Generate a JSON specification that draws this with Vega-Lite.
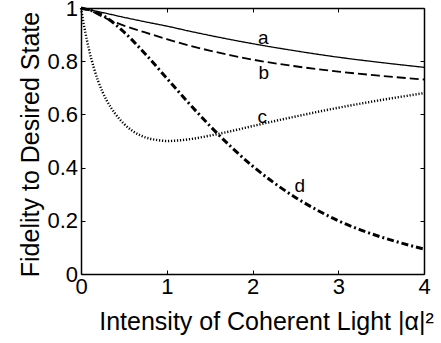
{
  "$schema": "https://vega.github.io/schema/vega-lite/v6.json",
  "width": 343,
  "height": 266,
  "autosize": {"type": "none"},
  "padding": {"left": 81, "top": 8, "right": 17, "bottom": 69},
  "config": {
    "view": {"stroke": null},
    "font": "Liberation Sans",
    "axis": {
      "grid": false,
      "domainColor": "black",
      "domainWidth": 1.5,
      "tickColor": "black",
      "tickWidth": 1,
      "tickSize": -4,
      "labelColor": "black",
      "labelFont": "Liberation Sans",
      "labelFontSize": 22,
      "labelFlush": false,
      "labelOverlap": false,
      "format": "~g",
      "titleColor": "black",
      "titleFont": "Liberation Sans",
      "titleFontSize": 25,
      "titleFontWeight": "normal"
    }
  },
  "datasets": {
    "curves": [
      {"s": "a", "x": 0, "y": 1}, {"s": "a", "x": 0.25, "y": 0.983}, {"s": "a", "x": 0.5, "y": 0.965}, {"s": "a", "x": 0.75, "y": 0.948}, {"s": "a", "x": 1, "y": 0.932}, {"s": "a", "x": 1.25, "y": 0.914}, {"s": "a", "x": 1.5, "y": 0.897}, {"s": "a", "x": 1.75, "y": 0.881}, {"s": "a", "x": 2, "y": 0.866}, {"s": "a", "x": 2.5, "y": 0.839}, {"s": "a", "x": 3, "y": 0.815}, {"s": "a", "x": 3.5, "y": 0.795}, {"s": "a", "x": 4, "y": 0.777},
      {"s": "b", "x": 0, "y": 1}, {"s": "b", "x": 0.125, "y": 0.988}, {"s": "b", "x": 0.25, "y": 0.967}, {"s": "b", "x": 0.5, "y": 0.934}, {"s": "b", "x": 0.75, "y": 0.908}, {"s": "b", "x": 1, "y": 0.883}, {"s": "b", "x": 1.25, "y": 0.86}, {"s": "b", "x": 1.5, "y": 0.84}, {"s": "b", "x": 1.75, "y": 0.822}, {"s": "b", "x": 2, "y": 0.806}, {"s": "b", "x": 2.5, "y": 0.781}, {"s": "b", "x": 3, "y": 0.761}, {"s": "b", "x": 3.5, "y": 0.745}, {"s": "b", "x": 4, "y": 0.731},
      {"s": "c", "x": 0, "y": 1}, {"s": "c", "x": 0.025, "y": 0.952}, {"s": "c", "x": 0.05, "y": 0.909}, {"s": "c", "x": 0.1, "y": 0.835}, {"s": "c", "x": 0.15, "y": 0.775}, {"s": "c", "x": 0.2, "y": 0.725}, {"s": "c", "x": 0.25, "y": 0.685}, {"s": "c", "x": 0.3, "y": 0.652}, {"s": "c", "x": 0.4, "y": 0.602}, {"s": "c", "x": 0.5, "y": 0.565}, {"s": "c", "x": 0.6, "y": 0.538}, {"s": "c", "x": 0.7, "y": 0.52}, {"s": "c", "x": 0.8, "y": 0.509}, {"s": "c", "x": 0.9, "y": 0.503}, {"s": "c", "x": 1, "y": 0.5}, {"s": "c", "x": 1.25, "y": 0.506}, {"s": "c", "x": 1.5, "y": 0.52}, {"s": "c", "x": 1.75, "y": 0.537}, {"s": "c", "x": 2, "y": 0.556}, {"s": "c", "x": 2.5, "y": 0.592}, {"s": "c", "x": 3, "y": 0.625}, {"s": "c", "x": 3.5, "y": 0.654}, {"s": "c", "x": 4, "y": 0.68},
      {"s": "d", "x": 0, "y": 1}, {"s": "d", "x": 0.25, "y": 0.973}, {"s": "d", "x": 0.5, "y": 0.91}, {"s": "d", "x": 0.75, "y": 0.827}, {"s": "d", "x": 1, "y": 0.736}, {"s": "d", "x": 1.25, "y": 0.645}, {"s": "d", "x": 1.5, "y": 0.558}, {"s": "d", "x": 1.75, "y": 0.478}, {"s": "d", "x": 2, "y": 0.406}, {"s": "d", "x": 2.25, "y": 0.343}, {"s": "d", "x": 2.5, "y": 0.288}, {"s": "d", "x": 2.75, "y": 0.241}, {"s": "d", "x": 3, "y": 0.2}, {"s": "d", "x": 3.25, "y": 0.167}, {"s": "d", "x": 3.5, "y": 0.139}, {"s": "d", "x": 3.75, "y": 0.115}, {"s": "d", "x": 4, "y": 0.094}
    ],
    "labels": [
      {"label": "a", "x": 2.127, "y": 0.889},
      {"label": "b", "x": 2.133, "y": 0.757},
      {"label": "c", "x": 2.115, "y": 0.592},
      {"label": "d", "x": 2.552, "y": 0.331}
    ]
  },
  "layer": [
    {
      "data": {"name": "curves"},
      "mark": {"type": "line", "color": "black", "interpolate": "monotone"},
      "encoding": {
        "x": {
          "field": "x", "type": "quantitative",
          "scale": {"domain": [0, 4], "nice": false},
          "axis": {
            "orient": "bottom", "values": [0, 1, 2, 3, 4], "labelPadding": 6,
            "title": "Intensity of Coherent Light |α|²",
            "titleX": 185, "titleY": 55.5, "titleBaseline": "alphabetic", "titleAlign": "center"
          }
        },
        "y": {
          "field": "y", "type": "quantitative",
          "scale": {"domain": [0, 1], "nice": false},
          "axis": {
            "orient": "left", "values": [0, 0.2, 0.4, 0.6, 0.8, 1], "labelPadding": 7.5,
            "title": "Fidelity to Desired State",
            "titleX": -43, "titleY": 136, "titleBaseline": "alphabetic", "titleAlign": "center", "titleAngle": -90
          }
        },
        "strokeDash": {
          "field": "s", "type": "nominal", "legend": null,
          "scale": {"domain": ["a", "b", "c", "d"], "range": [[1, 0], [9, 4], [1.2, 1.8], [7, 3, 2, 3]]}
        },
        "strokeWidth": {
          "field": "s", "type": "nominal", "legend": null,
          "scale": {"domain": ["a", "b", "c", "d"], "range": [1.3, 3, 2.6, 3]}
        }
      }
    },
    {
      "data": {"name": "labels"},
      "mark": {"type": "text", "color": "black", "font": "Liberation Sans", "fontSize": 19, "align": "center", "baseline": "middle"},
      "encoding": {
        "x": {
          "field": "x", "type": "quantitative",
          "scale": {"domain": [0, 4], "nice": false},
          "axis": {"orient": "top", "values": [0, 1, 2, 3, 4], "labels": false, "title": null}
        },
        "y": {
          "field": "y", "type": "quantitative",
          "scale": {"domain": [0, 1], "nice": false},
          "axis": {"orient": "right", "values": [0, 0.2, 0.4, 0.6, 0.8, 1], "labels": false, "title": null}
        },
        "text": {"field": "label", "type": "nominal"}
      }
    }
  ],
  "resolve": {"axis": {"x": "independent", "y": "independent"}}
}
